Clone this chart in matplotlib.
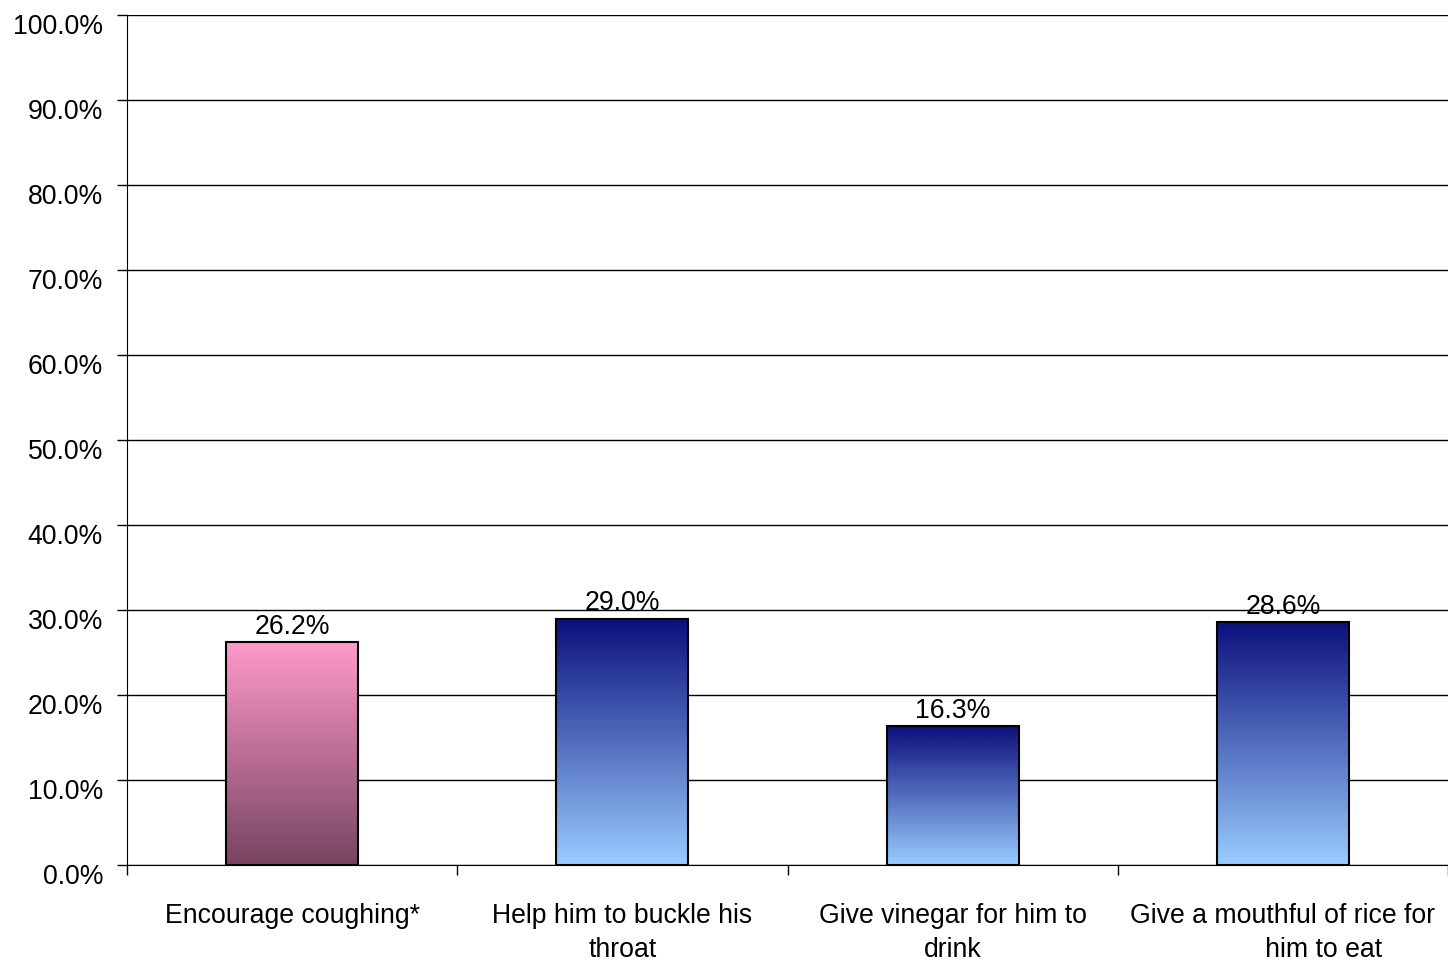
import numpy as np
import matplotlib
matplotlib.use('Agg')
import matplotlib.pyplot as plt
from matplotlib.colors import LinearSegmentedColormap
import matplotlib.transforms as mtransforms

categories = ["Encourage coughing*",
              "Help him to buckle his\nthroat",
              "Give vinegar for him to\ndrink",
              "Give a mouthful of rice for\n           him to eat"]
values = [26.2, 29.0, 16.3, 28.6]
value_labels = ["26.2%", "29.0%", "16.3%", "28.6%"]
y_ticks = [0, 10, 20, 30, 40, 50, 60, 70, 80, 90, 100]
y_tick_labels = ["0.0%", "10.0%", "20.0%", "30.0%", "40.0%", "50.0%",
                 "60.0%", "70.0%", "80.0%", "90.0%", "100.0%"]
top_colors = ["#FF99CC", "#0C0F7C", "#0C0F7C", "#0C0F7C"]
bottom_colors = ["#774460", "#99CCFF", "#99CCFF", "#99CCFF"]

plt.rcParams['font.family'] = ['Liberation Sans', 'DejaVu Sans']
FS = 19.2

fig = plt.figure(figsize=(14.48, 9.63), dpi=100)
ax = fig.add_axes([127/1448, 98/963, 1 - 127/1448, 850/963])

xpos = np.arange(len(categories)) + 0.5
bars = ax.bar(xpos, values, width=0.4, facecolor='none', edgecolor='black',
              linewidth=1.5, zorder=3)

grad = np.linspace(0, 1, 256).reshape(-1, 1)
for bar, top, bot in zip(bars, top_colors, bottom_colors):
    cmap = LinearSegmentedColormap.from_list('g', [bot, top])
    x0, y0 = bar.get_x(), bar.get_y()
    w, h = bar.get_width(), bar.get_height()
    ax.imshow(grad, cmap=cmap, extent=[x0, x0 + w, y0, y0 + h], origin='lower',
              aspect='auto', zorder=2, interpolation='bilinear')

for bar, lab in zip(bars, value_labels):
    ax.annotate(lab, (bar.get_x() + bar.get_width() / 2, bar.get_height()),
                xytext=(0, 1.5), textcoords='offset points', ha='center',
                va='bottom', fontsize=FS, zorder=4)

ax.set_xlim(0, len(categories))
ax.set_ylim(0, 100)

ax.set_yticks(y_ticks)
ax.set_yticklabels(y_tick_labels, fontsize=FS)
ax.yaxis.grid(True, color='black', linewidth=1)
ax.set_axisbelow(True)
ax.tick_params(axis='y', direction='out', length=7.2, width=1, color='black', pad=10)
offset = mtransforms.ScaledTranslation(0, -9 / 100, fig.dpi_scale_trans)
for lbl in ax.get_yticklabels():
    lbl.set_transform(lbl.get_transform() + offset)

ax.set_xticks(np.arange(len(categories) + 1))
ax.set_xticklabels([''] * (len(categories) + 1))
ax.tick_params(axis='x', which='major', direction='out', length=7.2, width=1, color='black')
ax.set_xticks(xpos, minor=True)
ax.set_xticklabels(categories, minor=True, fontsize=FS, multialignment='center',
                   linespacing=1.4)
ax.tick_params(axis='x', which='minor', length=0, pad=27)

for s in ['top', 'right']:
    ax.spines[s].set_visible(False)
ax.spines['left'].set_color('black')
ax.spines['bottom'].set_color('black')

fig.savefig('out.png', dpi=100)
